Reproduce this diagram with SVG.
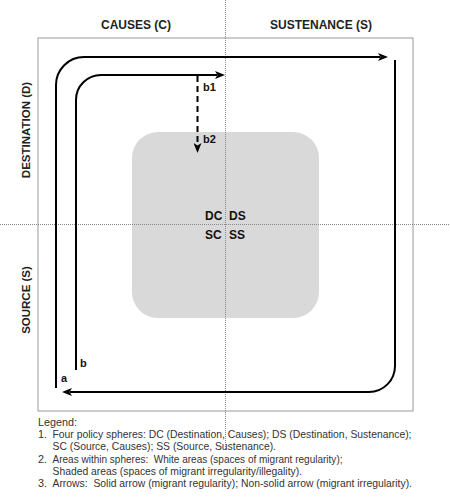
<svg xmlns="http://www.w3.org/2000/svg" width="450" height="503" viewBox="0 0 450 503">
<style>
.title{font-family:"Liberation Sans",Arial,sans-serif;font-weight:bold;font-size:12px;fill:#222}
.side{font-family:"Liberation Sans",Arial,sans-serif;font-weight:bold;font-size:11.5px;fill:#222}
.lbl{font-family:"Liberation Sans",Arial,sans-serif;font-weight:bold;font-size:11px;fill:#111}
.quad{font-family:"Liberation Sans",Arial,sans-serif;font-weight:bold;font-size:12px;fill:#111}
.leg{font-family:"Liberation Sans",Arial,sans-serif;font-size:10.8px;fill:#333;white-space:pre}
.arrow{fill:none;stroke:#000;stroke-width:2}
.dot{fill:none;stroke:#888;stroke-width:1;stroke-dasharray:1 1}
</style>
<defs>
<marker id="ah" markerUnits="userSpaceOnUse" viewBox="0 0 10 8" markerWidth="10" markerHeight="8" refX="2" refY="4" orient="auto">
<path d="M0,0 L10,4 L0,8 L2.5,4 z" fill="#000"/>
</marker>
</defs>
<rect width="450" height="503" fill="#fff"/>
<g id="frame">
<rect x="38" y="38" width="375" height="373" fill="none" stroke="#999" stroke-width="1"/>
</g>
<g id="shaded-area">
<rect x="132" y="132" width="187" height="186" rx="26" ry="26" fill="#d9d9d9"/>
</g>
<g id="axes">
<line class="dot" x1="225.5" y1="0" x2="225.5" y2="450"/>
<line class="dot" x1="0" y1="224.5" x2="450" y2="224.5"/>
</g>
<g id="headers">
<text class="title" x="136" y="29" text-anchor="middle">CAUSES (C)</text>
<text class="title" x="321" y="29" text-anchor="middle">SUSTENANCE (S)</text>
<text class="side" transform="translate(29.5,130) rotate(-90)" text-anchor="middle">DESTINATION (D)</text>
<text class="side" transform="translate(29.5,300) rotate(-90)" text-anchor="middle">SOURCE (S)</text>
</g>
<g id="quadrants">
<text class="quad" x="205" y="220">DC</text>
<text class="quad" x="229" y="220">DS</text>
<text class="quad" x="205" y="239">SC</text>
<text class="quad" x="229" y="239">SS</text>
</g>
<g id="connectors">
<path id="arrow-a-top" class="arrow" d="M56,388 V85 A28,28 0 0 1 84,57 H380" marker-end="url(#ah)"/>
<path id="arrow-a-bottom" class="arrow" d="M395,60 V366 A26,26 0 0 1 369,392 H70" marker-end="url(#ah)"/>
<path id="arrow-b" class="arrow" d="M76,370 V100 A25,25 0 0 1 101,75 H217" marker-end="url(#ah)"/>
<path id="arrow-b2" class="arrow" d="M197.5,76 V145" stroke-dasharray="6 4" marker-end="url(#ah)"/>
</g>
<g id="labels">
<text class="lbl" x="61" y="382">a</text>
<text class="lbl" x="80" y="367">b</text>
<text class="lbl" x="203" y="91">b1</text>
<text class="lbl" x="203" y="143">b2</text>
</g>
<g id="legend">
<text class="leg" x="38" y="426">Legend:</text>
<text class="leg" x="38" y="438">1.</text>
<text class="leg" x="52.5" y="438" textLength="359" lengthAdjust="spacingAndGlyphs">Four policy spheres: DC (Destination, Causes); DS (Destination, Sustenance);</text>
<text class="leg" x="52.5" y="450" textLength="223.5" lengthAdjust="spacingAndGlyphs">SC (Source, Causes); SS (Source, Sustenance).</text>
<text class="leg" x="38" y="462.5">2.</text>
<text class="leg" x="52.5" y="462.5" textLength="290" lengthAdjust="spacingAndGlyphs">Areas within spheres:  White areas (spaces of migrant regularity);</text>
<text class="leg" x="52.5" y="474.5" textLength="249.5" lengthAdjust="spacingAndGlyphs">Shaded areas (spaces of migrant irregularity/illegality).</text>
<text class="leg" x="38" y="487">3.</text>
<text class="leg" x="52.5" y="487" textLength="359.5" lengthAdjust="spacingAndGlyphs">Arrows:  Solid arrow (migrant regularity); Non-solid arrow (migrant irregularity).</text>
</g>
</svg>
